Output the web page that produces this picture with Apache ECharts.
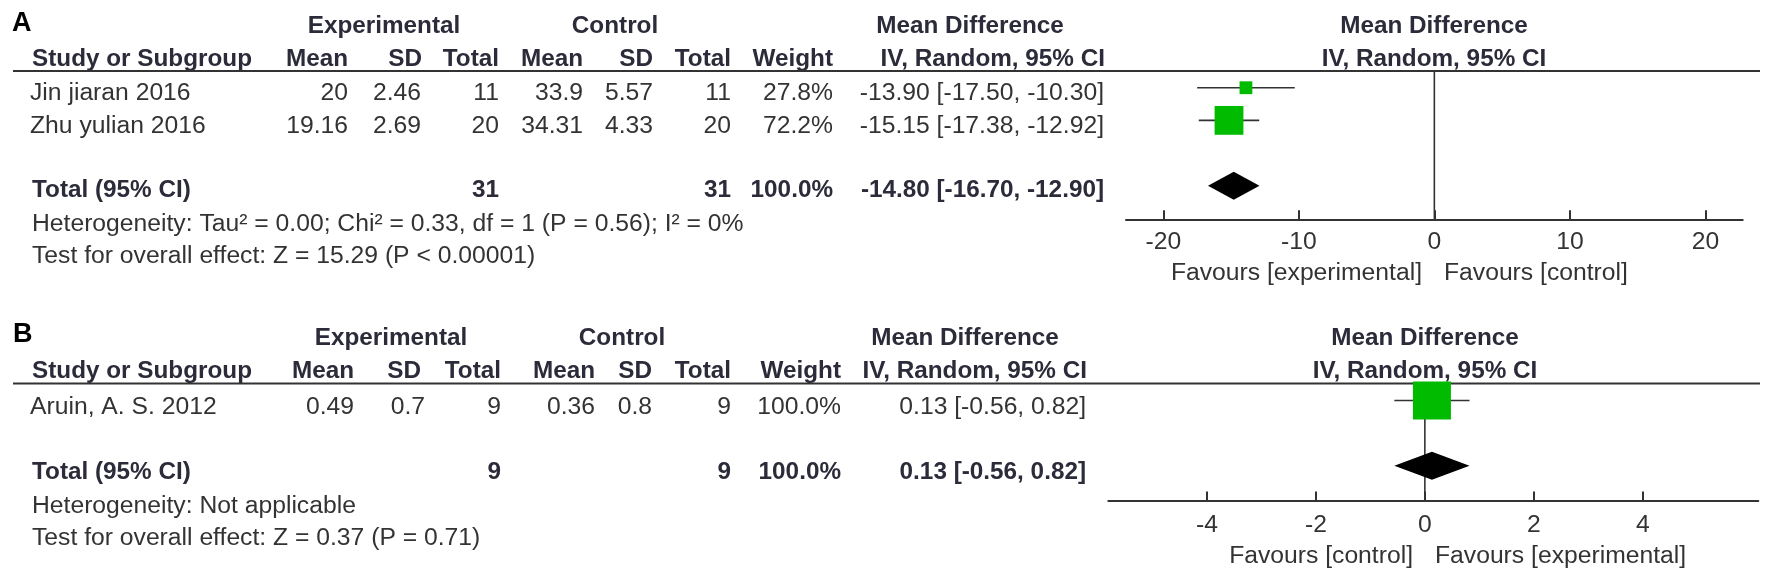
<!DOCTYPE html>
<html><head><meta charset="utf-8">
<script src="https://cdn.jsdelivr.net/npm/echarts@6/dist/echarts.min.js"></script>
<style>html,body{margin:0;padding:0;background:#fff}#c{width:1772px;height:586px}</style>
</head><body><div id="c"></div>
<script>
// ---------- Panel A data ----------
const studiesA = ['Jin jiaran 2016', 'Zhu yulian 2016'];
const expMeanA = [20, 19.16];
const expSDA = [2.46, 2.69];
const expNA = [11, 20];
const ctlMeanA = [33.9, 34.31];
const ctlSDA = [5.57, 4.33];
const ctlNA = [11, 20];
const weightA = [27.8, 72.2];
const mdA = [-13.90, -15.15];
const lowA = [-17.50, -17.38];
const highA = [-10.30, -12.92];
const totalMdA = [-14.80, -16.70, -12.90];
const totalNA = [31, 31];
const totalWA = 100.0;
const hetA = 'Heterogeneity: Tau\u00b2 = 0.00; Chi\u00b2 = 0.33, df = 1 (P = 0.56); I\u00b2 = 0%';
const testA = 'Test for overall effect: Z = 15.29 (P < 0.00001)';
const ticksA = [-20, -10, 0, 10, 20];
const favoursA = ['Favours [experimental]', 'Favours [control]'];

// ---------- Panel B data ----------
const studiesB = ['Aruin, A. S. 2012'];
const expMeanB = [0.49];
const expSDB = [0.7];
const expNB = [9];
const ctlMeanB = [0.36];
const ctlSDB = [0.8];
const ctlNB = [9];
const weightB = [100.0];
const mdB = [0.13];
const lowB = [-0.56];
const highB = [0.82];
const totalMdB = [0.13, -0.56, 0.82];
const totalNB = [9, 9];
const totalWB = 100.0;
const hetB = 'Heterogeneity: Not applicable';
const testB = 'Test for overall effect: Z = 0.37 (P = 0.71)';
const ticksB = [-4, -2, 0, 2, 4];
const favoursB = ['Favours [control]', 'Favours [experimental]'];

// ---------- helpers ----------
const FONT = '"Liberation Sans", Arial, Helvetica, sans-serif';
const TXT = '#333333';
const HDR = '#2b2b3a';
const REG = 24.7, BOLD = 24.3;
function T(text, x, y, align, bold, size, color) {
  return { type: 'text', x: x, y: y, silent: true,
    style: { text: String(text), fill: color || (bold ? HDR : TXT),
      font: (bold ? 'bold ' : '') + (size || (bold ? BOLD : REG)) + 'px ' + FONT,
      align: align, verticalAlign: 'middle' } };
}
function L(x1, y1, x2, y2, w) {
  return { type: 'line', silent: true, shape: { x1, y1, x2, y2 }, style: { stroke: '#333', lineWidth: w || 2 } };
}
const fmtMD = (m, l, h) => m.toFixed(2) + ' [' + l.toFixed(2) + ', ' + h.toFixed(2) + ']';
const fmtW = w => w.toFixed(1) + '%';
const boxSide = w => 38 * Math.pow(w / 100, 0.85);

function tableGraphics(P) {
  const g = [];
  const c = P.cols;
  g.push(T(P.letter, P.letterX, P.letterY, 'left', true, 27, '#000'));
  g.push(T('Experimental', c.expHdr, P.y.h1, 'center', true));
  g.push(T('Control', c.ctlHdr, P.y.h1, 'center', true));
  g.push(T('Mean Difference', c.mdHdr, P.y.h1, 'center', true));
  g.push(T('Mean Difference', c.plotHdr, P.y.h1, 'center', true));
  g.push(T('Study or Subgroup', 32, P.y.h2, 'left', true));
  g.push(T('Mean', c.mean, P.y.h2, 'right', true));
  g.push(T('SD', c.sdH, P.y.h2, 'right', true));
  g.push(T('Total', c.n, P.y.h2, 'right', true));
  g.push(T('Mean', c.cmean, P.y.h2, 'right', true));
  g.push(T('SD', c.csd, P.y.h2, 'right', true));
  g.push(T('Total', c.cn, P.y.h2, 'right', true));
  g.push(T('Weight', c.w, P.y.h2, 'right', true));
  g.push(T('IV, Random, 95% CI', c.mdH, P.y.h2, 'right', true));
  g.push(T('IV, Random, 95% CI', c.plotHdr, P.y.h2, 'center', true));
  g.push(L(13, P.y.rule, 1760, P.y.rule, 2));
  P.studies.forEach((s, i) => {
    const y = P.y.r0 + i * P.y.step;
    g.push(T(s, 30, y, 'left', false));
    g.push(T(P.em[i], c.mean, y, 'right'));
    g.push(T(P.esd[i], c.sd, y, 'right'));
    g.push(T(P.en[i], c.n, y, 'right'));
    g.push(T(P.cm[i], c.cmean, y, 'right'));
    g.push(T(P.csdv[i], c.csd, y, 'right'));
    g.push(T(P.cnv[i], c.cn, y, 'right'));
    g.push(T(fmtW(P.w[i]), c.w, y, 'right'));
    g.push(T(fmtMD(P.md[i], P.lo[i], P.hi[i]), c.md, y, 'right'));
  });
  g.push(T('Total (95% CI)', 32, P.y.tot, 'left', true));
  g.push(T(P.totN[0], c.n, P.y.tot, 'right', true));
  g.push(T(P.totN[1], c.cn, P.y.tot, 'right', true));
  g.push(T(fmtW(P.totW), c.w, P.y.tot, 'right', true));
  g.push(T(fmtMD(P.tot[0], P.tot[1], P.tot[2]), c.md, P.y.tot, 'right', true));
  g.push(T(P.het, 32, P.y.het, 'left'));
  g.push(T(P.test, 32, P.y.test, 'left'));
  g.push(T(P.fav[0], P.zeroX - 12, P.y.fav, 'right'));
  g.push(T(P.fav[1], P.zeroX + 10, P.y.fav, 'left'));
  return g;
}

const PA = {
  letter: 'A', letterX: 12, letterY: 24,
  studies: studiesA, em: expMeanA, esd: expSDA, en: expNA, cm: ctlMeanA, csdv: ctlSDA, cnv: ctlNA,
  w: weightA, md: mdA, lo: lowA, hi: highA, tot: totalMdA, totN: totalNA, totW: totalWA,
  het: hetA, test: testA, fav: favoursA, zeroX: 1434,
  cols: { expHdr: 384, ctlHdr: 615, mdHdr: 970, plotHdr: 1434, mean: 348, sd: 421, sdH: 422, n: 499,
          cmean: 583, csd: 653, cn: 731, w: 833, md: 1104, mdH: 1105 },
  y: { h1: 26.5, h2: 59.5, rule: 71, r0: 93, step: 33.4, tot: 190.5, het: 224.5, test: 256.5, fav: 273 }
};
const PB = {
  letter: 'B', letterX: 13, letterY: 335,
  studies: studiesB, em: expMeanB, esd: expSDB, en: expNB, cm: ctlMeanB, csdv: ctlSDB, cnv: ctlNB,
  w: weightB, md: mdB, lo: lowB, hi: highB, tot: totalMdB, totN: totalNB, totW: totalWB,
  het: hetB, test: testB, fav: favoursB, zeroX: 1425,
  cols: { expHdr: 391, ctlHdr: 622, mdHdr: 965, plotHdr: 1425, mean: 354, sd: 425, sdH: 421, n: 501,
          cmean: 595, csd: 652, cn: 731, w: 841, md: 1086, mdH: 1087 },
  y: { h1: 338, h2: 371.5, rule: 383.5, r0: 407.5, step: 33.4, tot: 472, het: 506, test: 538, fav: 556 }
};

// ---------- series renderers ----------
function studyItem(params, api) {
  const r = api.value(3);
  const c = api.coord([api.value(0), r]);
  const l = api.coord([api.value(1), r]);
  const h = api.coord([api.value(2), r]);
  const s = boxSide(api.value(4));
  return { type: 'group', children: [
    { type: 'line', shape: { x1: l[0], y1: c[1], x2: h[0], y2: c[1] }, style: { stroke: '#333', lineWidth: 1.6 } },
    { type: 'rect', shape: { x: c[0] - s / 2, y: c[1] - s / 2, width: s, height: s }, style: { fill: '#00BB00' } }
  ] };
}
function diamondItem(params, api) {
  const r = api.value(3);
  const c = api.coord([api.value(0), r]);
  const l = api.coord([api.value(1), r]);
  const h = api.coord([api.value(2), r]);
  return { type: 'polygon', shape: { points: [[l[0], c[1]], [c[0], c[1] - 14], [h[0], c[1]], [c[0], c[1] + 14]] },
    style: { fill: '#000' } };
}
function zeroItem(params, api) {
  const cs = params.coordSys;
  const x = api.coord([0, 0])[0];
  return { type: 'line', shape: { x1: x, y1: cs.y, x2: x, y2: cs.y + cs.height }, style: { stroke: '#333', lineWidth: 1.6 } };
}

function studyData(md, lo, hi, w) { return md.map((m, i) => [m, lo[i], hi[i], i, w[i]]); }
function xAxisCfg(gi, min, max, ticks, margin) {
  return { gridIndex: gi, type: 'value', min: min, max: max, position: 'bottom',
    axisLine: { show: true, onZero: false, lineStyle: { color: '#333', width: 2 } },
    axisTick: { show: true, inside: true, length: 9, customValues: ticks, lineStyle: { color: '#333', width: 2 } },
    axisLabel: { show: true, customValues: ticks, margin: margin, fontSize: REG, color: '#333', fontFamily: FONT },
    splitLine: { show: false } };
}

const option = {
  backgroundColor: '#fff',
  animation: false,
  grid: [
    { left: 1126, width: 616.7, top: 71.4, height: 147.9 },
    { left: 1108.3, width: 650, top: 384.2, height: 116.2 }
  ],
  xAxis: [ xAxisCfg(0, -22.75, 22.75, ticksA, 10.5), xAxisCfg(1, -5.81, 6.12, ticksB, 12.5) ],
  yAxis: [
    { gridIndex: 0, type: 'value', inverse: true, min: -0.5, max: 4.03, show: false },
    { gridIndex: 1, type: 'value', inverse: true, min: -0.5, max: 3.06, show: false }
  ],
  series: [
    { type: 'custom', xAxisIndex: 0, yAxisIndex: 0, data: [[0, 0]], renderItem: zeroItem, z: 1, silent: true },
    { type: 'custom', xAxisIndex: 0, yAxisIndex: 0, data: studyData(mdA, lowA, highA, weightA),
      encode: { x: [0, 1, 2], y: 3 }, renderItem: studyItem, z: 2, silent: true },
    { type: 'custom', xAxisIndex: 0, yAxisIndex: 0, data: [[totalMdA[0], totalMdA[1], totalMdA[2], studiesA.length + 1]],
      encode: { x: [0, 1, 2], y: 3 }, renderItem: diamondItem, z: 2, silent: true },
    { type: 'custom', xAxisIndex: 1, yAxisIndex: 1, data: [[0, 0]], renderItem: zeroItem, z: 1, silent: true },
    { type: 'custom', xAxisIndex: 1, yAxisIndex: 1, data: studyData(mdB, lowB, highB, weightB),
      encode: { x: [0, 1, 2], y: 3 }, renderItem: studyItem, z: 2, silent: true },
    { type: 'custom', xAxisIndex: 1, yAxisIndex: 1, data: [[totalMdB[0], totalMdB[1], totalMdB[2], studiesB.length + 1]],
      encode: { x: [0, 1, 2], y: 3 }, renderItem: diamondItem, z: 2, silent: true }
  ],
  graphic: tableGraphics(PA).concat(tableGraphics(PB))
};

const chart = echarts.init(document.getElementById('c'), null, { renderer: 'canvas' });
chart.setOption(option);
</script>
</body></html>
